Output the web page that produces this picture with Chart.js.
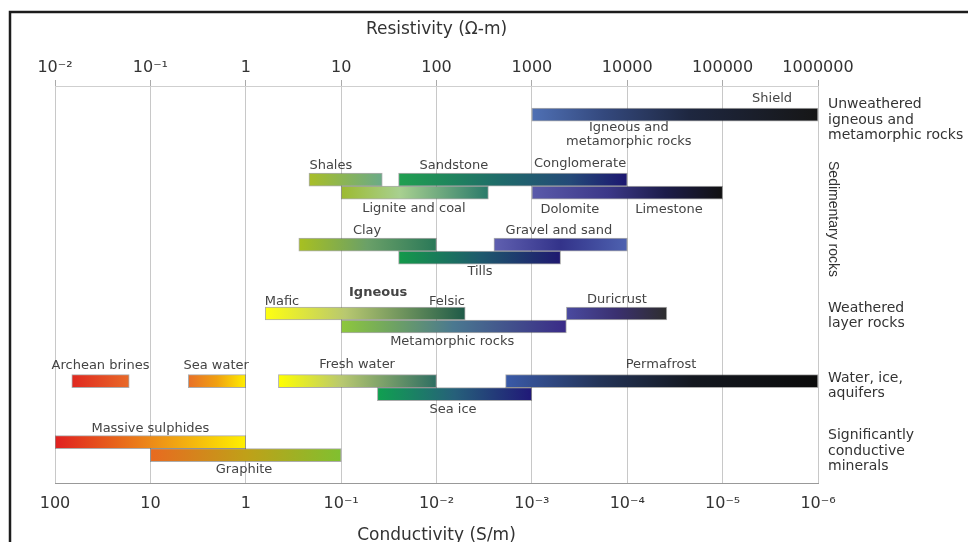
<!DOCTYPE html>
<html><head><meta charset="utf-8">
<script src="https://cdn.jsdelivr.net/npm/chart.js@4/dist/chart.umd.min.js"></script>
<style>html,body{margin:0;padding:0;background:#fff;}canvas{display:block}</style>
</head><body><canvas id="c" width="968" height="542"></canvas>
<script>
// ---------------- data ----------------
const materials = ['Igneous and metamorphic rocks','Shales','Sandstone–Conglomerate','Lignite and coal','Dolomite–Limestone','Clay','Gravel and sand','Tills','Igneous (mafic–felsic)','Metamorphic rocks','Duricrust','Archean brines','Sea water','Fresh water','Permafrost','Sea ice','Massive sulphides','Graphite'];
const resistivityMin = [1000, 4.6, 40, 10, 1000, 3.6, 400, 40, 1.6, 10, 2300, 0.015, 0.25, 2.2, 530, 24, 0.01, 0.1];
const resistivityMax = [1e6, 27, 1e4, 350, 1e5, 100, 1e4, 2000, 200, 2300, 26000, 0.06, 1, 100, 1e6, 1000, 1, 10];
const lanes = [2.2, 7.2, 7.2, 8.2, 8.2, 12.2, 12.2, 13.2, 17.5, 18.5, 17.5, 22.7, 22.7, 22.7, 22.7, 23.7, 27.4, 28.4];
const tickValues = [0.01, 0.1, 1, 10, 100, 1000, 10000, 100000, 1000000];
const resistivityTickLabels = ['10⁻²','10⁻¹','1','10','100','1000','10000','100000','1000000'];
const conductivityTickLabels = ['100','10','1','10⁻¹','10⁻²','10⁻³','10⁻⁴','10⁻⁵','10⁻⁶'];
const labelTexts = ['Shield','Igneous and\nmetamorphic rocks','Shales','Sandstone','Conglomerate','Lignite and coal','Dolomite','Limestone','Clay','Gravel and sand','Tills','Mafic','Igneous','Felsic','Duricrust','Metamorphic rocks','Archean brines','Sea water','Fresh water','Permafrost','Sea ice','Massive sulphides','Graphite'];
const labelAtResistivity = [3.3e5, 1.04e4, 7.8, 152, 3200, 58, 2500, 27400, 18.7, 1920, 286, 2.4, 24.4, 129, 7800, 146, 0.030, 0.49, 14.7, 22600, 149, 0.1, 0.96];
const labelAtLane = [1.0, 3.77, 6.13, 6.13, 6.0, 9.44, 9.5, 9.54, 11.15, 11.15, 14.3, 16.6, 15.87, 16.6, 16.4, 19.67, 21.5, 21.5, 21.4, 21.46, 24.87, 26.38, 29.54];
const groupTexts = ['Unweathered\nigneous and\nmetamorphic rocks','Weathered\nlayer rocks','Water, ice,\naquifers','Significantly\nconductive\nminerals'];
const groupAtLane = [2.62, 17.68, 23.06, 28.1];
const rotatedGroupText = 'Sedimentary rocks';
const rotatedGroupLane = 10.23;

// ---------------- styles ----------------
const barStops = [
  [[0,'#4f70b4'],[0.25,'#34497e'],[0.55,'#1e2740'],[1,'#161616']],
  [[0,'#a8be28'],[1,'#6aaa88']],
  [[0,'#20a050'],[0.45,'#1f6a6a'],[0.75,'#244a78'],[1,'#1c1670']],
  [[0,'#9cba30'],[0.4,'#a8d090'],[1,'#2a7a6a']],
  [[0,'#5a5aaa'],[0.4,'#3c3888'],[0.7,'#1c1c4a'],[1,'#111111']],
  [[0,'#a8c020'],[0.5,'#6aa068'],[1,'#2a7858']],
  [[0,'#6060b0'],[0.5,'#33338a'],[1,'#4e62b0']],
  [[0,'#149a4a'],[0.5,'#1e5a6c'],[1,'#1f1870']],
  [[0,'#ffff10'],[0.4,'#b8c870'],[1,'#1e5a48']],
  [[0,'#8ec83c'],[0.5,'#4a7890'],[1,'#3a2a88']],
  [[0,'#4a4aa0'],[0.5,'#3a3070'],[1,'#2e2e2e']],
  [[0,'#e02820'],[1,'#e86a28']],
  [[0,'#e87028'],[0.5,'#f0a010'],[1,'#ffee00']],
  [[0,'#ffff00'],[0.4,'#b8c870'],[1,'#2e6e62']],
  [[0,'#3a5aa8'],[0.3,'#243458'],[0.6,'#141820'],[1,'#0c0c0c']],
  [[0,'#10a050'],[0.5,'#26607a'],[1,'#201878']],
  [[0,'#e02020'],[0.5,'#ec8a18'],[1,'#fff000']],
  [[0,'#e86a20'],[0.5,'#c0a018'],[1,'#80c030']]
];
const FONT = '"DejaVu Sans", sans-serif';

function barFill(ctx) {
  const chart = ctx.chart;
  const i = ctx.dataIndex;
  if (!chart.chartArea || i === undefined) return '#888';
  const xs = chart.scales.x;
  const x0 = xs.getPixelForValue(resistivityMin[i]);
  const x1 = xs.getPixelForValue(resistivityMax[i]);
  const g = chart.ctx.createLinearGradient(x0, 0, x1, 0);
  barStops[i].forEach(s => g.addColorStop(s[0], s[1]));
  return g;
}

const decadeTicks = scale => { scale.ticks = tickValues.map(v => ({ value: v })); };

const annotations = {
  id: 'annotations',
  beforeDraw(chart) {
    const c = chart.ctx;
    c.save();
    c.fillStyle = '#fff';
    c.fillRect(0, 0, chart.width, chart.height);
    c.restore();
  },
  afterDraw(chart) {
    const c = chart.ctx, xs = chart.scales.x, ys = chart.scales.y, area = chart.chartArea;
    c.save();
    // frame
    c.strokeStyle = '#1c1c1c';
    c.lineWidth = 2.5;
    c.beginPath();
    c.moveTo(chart.width, 12); c.lineTo(10, 12); c.lineTo(10, chart.height);
    c.stroke();
    // bar labels
    c.textAlign = 'center';
    c.textBaseline = 'middle';
    c.fillStyle = '#444';
    labelTexts.forEach((t, k) => {
      c.font = (t === 'Igneous' ? 'bold ' : '') + '13px ' + FONT;
      const px = xs.getPixelForValue(labelAtResistivity[k]);
      const py = ys.getPixelForValue(labelAtLane[k]);
      const lines = t.split('\n');
      lines.forEach((ln, j) => c.fillText(ln, px, py + (j - (lines.length - 1) / 2) * 14));
    });
    // group labels
    c.textAlign = 'left';
    c.fillStyle = '#333';
    c.font = '14px ' + FONT;
    groupTexts.forEach((t, k) => {
      const py = ys.getPixelForValue(groupAtLane[k]);
      const lines = t.split('\n');
      lines.forEach((ln, j) => c.fillText(ln, area.right + 10, py + (j - (lines.length - 1) / 2) * 15.5));
    });
    c.translate(area.right + 15, ys.getPixelForValue(rotatedGroupLane));
    c.rotate(Math.PI / 2);
    c.textAlign = 'center';
    c.font = '14px "Liberation Sans", Arial, sans-serif';
    c.fillText(rotatedGroupText, 0, 0);
    c.restore();
  }
};

new Chart(document.getElementById('c'), {
  type: 'bar',
  data: {
    datasets: [{
      label: 'Resistivity range',
      data: materials.map((m, i) => ({ x: [resistivityMin[i], resistivityMax[i]], y: lanes[i] })),
      backgroundColor: barFill,
      borderColor: 'rgba(70,70,70,0.45)',
      borderWidth: 1,
      borderSkipped: false,
      barThickness: 13,
      grouped: false
    }]
  },
  options: {
    indexAxis: 'y',
    responsive: false,
    animation: false,
    devicePixelRatio: 1,
    layout: { padding: { left: 55, right: 150, top: 0, bottom: 0 } },
    plugins: { legend: { display: false }, tooltip: { enabled: false } },
    scales: {
      x: {
        type: 'logarithmic', position: 'bottom', min: 0.01, max: 1e6,
        afterBuildTicks: decadeTicks,
        afterFit: s => { s.height = 59; },
        grid: { drawOnChartArea: false, drawTicks: false },
        border: { display: true, color: '#999', width: 1 },
        ticks: { autoSkip: false, maxRotation: 0, padding: 11, color: '#333',
          font: { family: FONT, size: 16 },
          callback: (v, i) => conductivityTickLabels[i] },
        title: { display: true, text: 'Conductivity (S/m)', color: '#333',
          font: { family: FONT, size: 17 }, padding: { top: 0, bottom: -4 } }
      },
      x2: {
        type: 'logarithmic', position: 'top', min: 0.01, max: 1e6,
        afterBuildTicks: decadeTicks,
        afterFit: s => { s.height = 86; },
        grid: { drawOnChartArea: true, color: '#c8c8c8', tickColor: '#aaa', tickLength: 6 },
        border: { display: true, color: '#cfcfcf', width: 1 },
        ticks: { autoSkip: false, maxRotation: 0, padding: 3, color: '#333',
          font: { family: FONT, size: 16 },
          callback: (v, i) => resistivityTickLabels[i] },
        title: { display: true, text: 'Resistivity (Ω-m)', color: '#333',
          font: { family: FONT, size: 17 }, padding: { top: 19, bottom: 0 } }
      },
      y: {
        type: 'linear', display: false, min: 0, max: 30.54, reverse: true, offset: false,
        grid: { display: false }
      }
    }
  },
  plugins: [annotations]
});
</script>
</body></html>
